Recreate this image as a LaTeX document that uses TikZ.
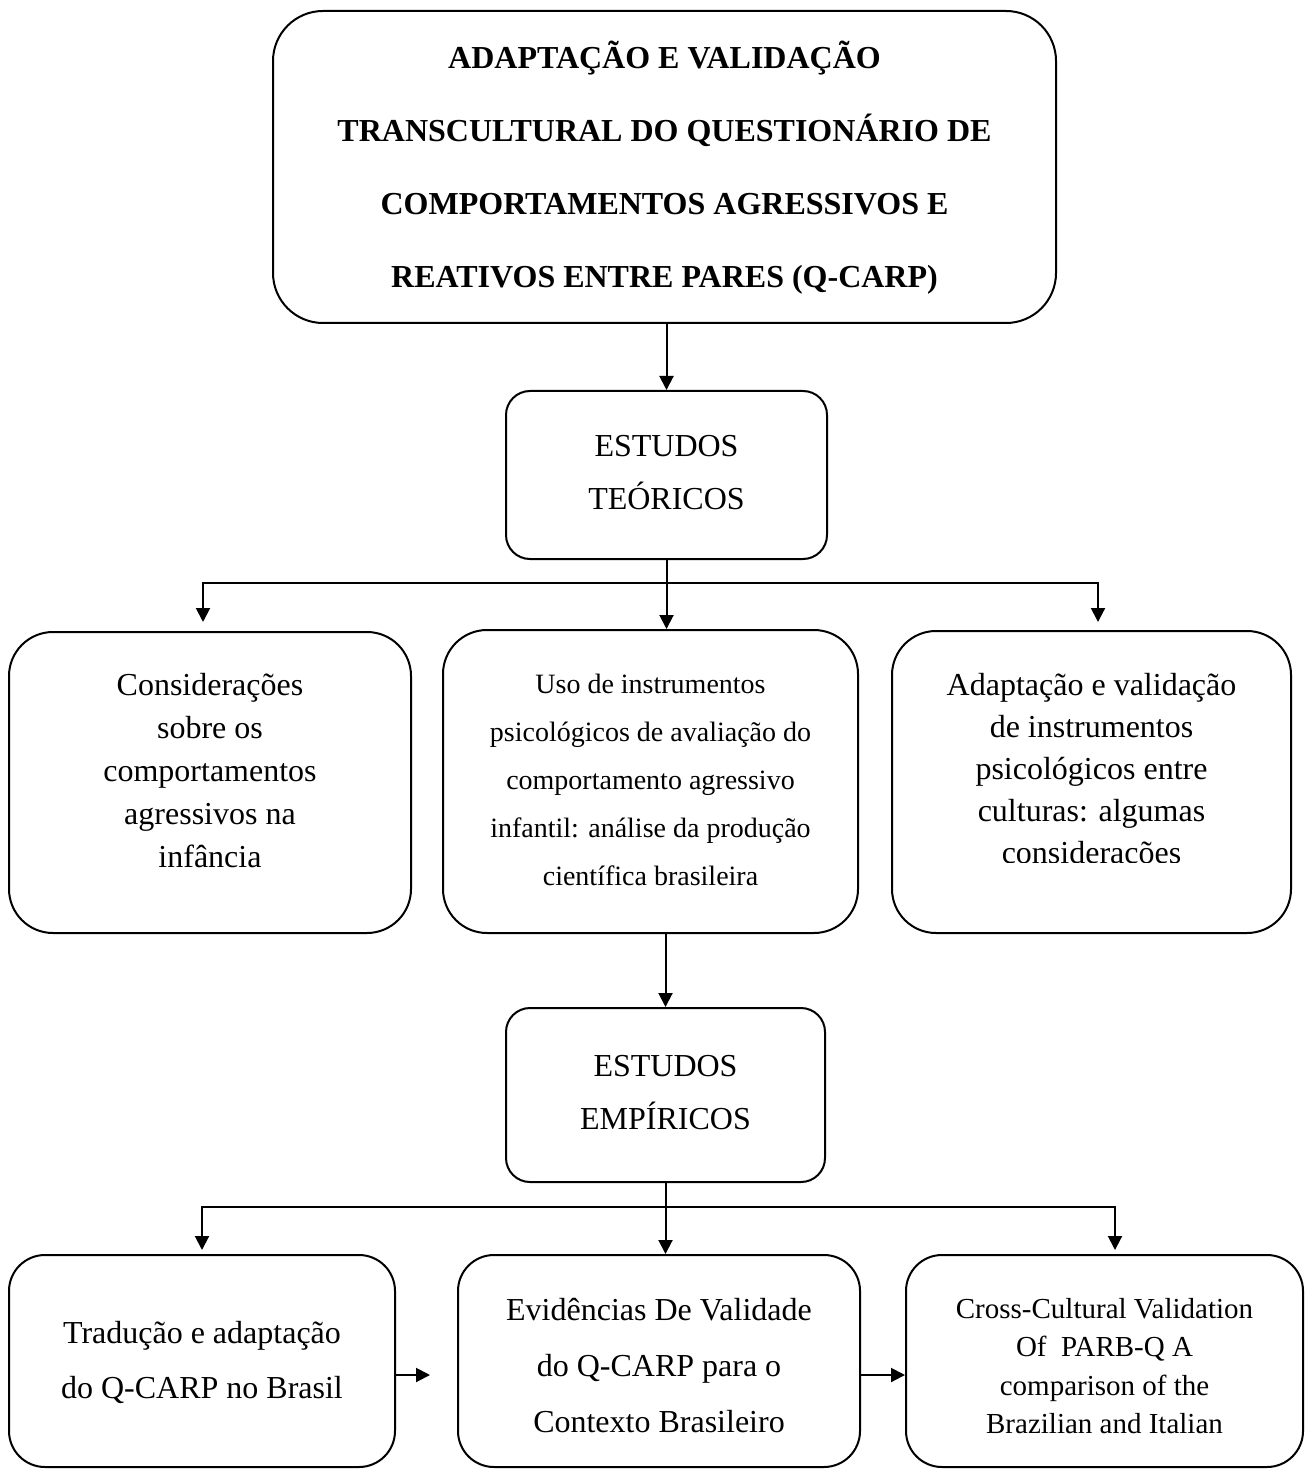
\documentclass[tikz,border=0pt]{standalone}
\usepackage{fontspec}
\setmainfont{Liberation Serif}
\usetikzlibrary{arrows.meta}

\begin{document}
\begin{tikzpicture}[x=0.5pt,y=-0.5pt,
  box/.style={draw, line width=1pt, rounded corners=#1, inner sep=0pt},
  box/.default=22pt,
  txt/.style={align=center, inner sep=0pt},
  arr/.style={line width=1pt, -{Triangle[length=7pt,width=7pt]}},
  link/.style={line width=1pt}
]
\useasboundingbox (0,0) rectangle (1305,1470);

% ---- boxes ----
\node[box=25pt, minimum width=391.5pt, minimum height=156pt] (title) at (664.5,167) {};
\node[box=12pt, minimum width=160.5pt, minimum height=84pt] (teo) at (666.5,475) {};
\node[box, minimum width=201pt, minimum height=150.5pt] (l2) at (210,782.5) {};
\node[box, minimum width=207.5pt, minimum height=151.5pt] (m2) at (650.5,781.5) {};
\node[box, minimum width=199.5pt, minimum height=151pt] (r2) at (1091.5,782) {};
\node[box=12pt, minimum width=159.5pt, minimum height=87pt] (emp) at (665.5,1095) {};
\node[box=18pt, minimum width=193pt, minimum height=106pt] (l3) at (202,1361) {};
\node[box=18pt, minimum width=201pt, minimum height=106pt] (m3) at (659,1361) {};
\node[box=18pt, minimum width=198.5pt, minimum height=106pt] (r3) at (1104.5,1361) {};

% ---- texts ----
\node[txt, font=\fontsize{16}{36.5}\selectfont\bfseries] (title-t) at (664.5,168)
  {ADAPTAÇÃO E VALIDAÇÃO\\TRANSCULTURAL DO QUESTIONÁRIO DE\\COMPORTAMENTOS AGRESSIVOS E\\REATIVOS ENTRE PARES (Q-CARP)};
\node[txt, font=\fontsize{16}{26.5}\selectfont] (teo-t) at (666.5,473)
  {ESTUDOS\\TEÓRICOS};
\node[txt, font=\fontsize{16}{21.5}\selectfont] (l2-t) at (210,771)
  {Considerações\\sobre os\\comportamentos\\agressivos na\\infância};
\node[txt, font=\fontsize{14}{24}\selectfont] (m2-t) at (650.5,780)
  {Uso de instrumentos\\psicológicos de avaliação do\\comportamento agressivo\\infantil: análise da produção\\científica brasileira};
\begin{scope}
  \clip (892,640) rectangle (1291,862);
  \node[txt, font=\fontsize{16}{21}\selectfont] (r2-t) at (1091.5,772)
    {Adaptação e validação\\de instrumentos\\psicológicos entre\\culturas: algumas\\considerações};
\end{scope}
\node[txt, font=\fontsize{16}{26.5}\selectfont] (emp-t) at (665.5,1093)
  {ESTUDOS\\EMPÍRICOS};
\node[txt, font=\fontsize{16}{27.5}\selectfont] (l3-t) at (202,1362)
  {Tradução e adaptação\\do Q-CARP no Brasil};
\node[txt, font=\fontsize{16}{28}\selectfont] (m3-t) at (659,1366)
  {Evidências De Validade\\do Q-CARP para o\\Contexto Brasileiro};
\node[txt, font=\fontsize{14.5}{19.25}\selectfont] (r3-t) at (1104.5,1366)
  {Cross-Cultural Validation\\Of\ \ PARB-Q A\\comparison of the\\Brazilian and Italian};

% ---- junction points ----
\coordinate (j1) at (666.5,583);
\coordinate (l2in) at (203,622);
\coordinate (r2in) at (1098,622);
\coordinate (j2) at (665.5,1207);
\coordinate (l3in) at (202,1250);
\coordinate (r3in) at (1115,1250);
\coordinate (a3) at (430,1375);

% ---- connectors ----
\draw[arr] (title.south -| teo.north) -- (teo.north);
\draw[arr] (teo.south) -- (teo.south |- m2.north);
\draw[arr] (j1) -| (l2in);
\draw[arr] (j1) -| (r2in);
\draw[arr] (emp.north |- m2.south) -- (emp.north);
\draw[arr] (emp.south) -- (emp.south |- m3.north);
\draw[arr] (j2) -| (l3in);
\draw[arr] (j2) -| (r3in);
\draw[arr] (a3 -| l3.east) -- (a3);
\draw[arr] (m3.east |- a3) -- (r3.west |- a3);
\end{tikzpicture}
\end{document}
